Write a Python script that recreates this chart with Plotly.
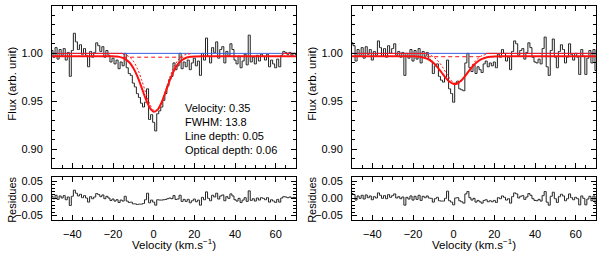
import plotly.graph_objects as go

# ---------------- data ----------------
velocity = list(range(-50, 71))  # bin centres (km/s), 1 km/s bins

flux_left = [1.003, 0.996, 1.006, 0.994, 1.004, 0.998, 1.005, 0.993, 1.001, 0.976,
             1.003, 1.021, 1.012, 1.004, 1.009, 0.999, 1.005, 0.998, 0.986, 1.002,
             0.996, 1.001, 1.011, 1.008, 1.002, 1.007, 0.996, 1.003, 0.998, 0.991,
             0.995, 0.989, 0.993, 0.984, 0.991, 0.987, 1.000, 0.985, 0.979, 0.977,
             0.969, 0.965, 0.958, 0.954, 0.948, 0.944, 0.949, 0.963, 0.931, 0.936,
             0.928, 0.919, 0.937, 0.940, 0.944, 0.951, 0.958, 0.966, 0.973, 0.976,
             0.990, 0.983, 0.987, 1.000, 0.984, 0.991, 0.986, 0.993, 0.983, 0.990,
             0.995, 0.987, 0.992, 0.977, 1.000, 0.993, 1.016, 0.997, 0.990, 1.006,
             1.001, 1.012, 0.995, 1.004, 1.007, 0.990, 1.002, 0.997, 1.010, 1.004,
             0.993, 0.989, 0.997, 0.985, 0.992, 0.999, 0.988, 1.019, 0.991, 0.996,
             0.989, 0.998, 0.992, 0.999, 0.997, 0.993, 0.999, 0.986, 0.993, 0.989,
             0.985, 0.994, 0.986, 0.998, 1.002, 1.001, 0.999, 1.001, 0.998, 1.000,
             0.999]

resid_left = [0.006, -0.001, 0.009, -0.003, 0.007, 0.001, 0.008, -0.004, 0.004, -0.021,
              0.006, 0.024, 0.015, 0.007, 0.012, 0.002, 0.008, 0.001, -0.011, 0.005,
              -0.001, 0.004, 0.014, 0.011, 0.005, 0.010, -0.001, 0.006, 0.001, -0.006,
              -0.002, -0.008, -0.004, -0.012, -0.005, -0.008, 0.006, -0.008, -0.012, -0.011,
              -0.016, -0.016, -0.018, -0.017, -0.017, -0.015, -0.004, 0.015, -0.013, -0.005,
              -0.011, -0.020, -0.004, -0.005, -0.005, -0.004, -0.003, -0.001, 0.001, -0.001,
              0.008, -0.003, -0.002, 0.009, -0.009, -0.003, -0.009, -0.003, -0.013, -0.007,
              -0.002, -0.010, -0.005, -0.020, 0.003, -0.004, 0.019, 0.000, -0.007, 0.009,
              0.004, 0.015, -0.002, 0.007, 0.010, -0.007, 0.005, 0.000, 0.013, 0.007,
              -0.004, -0.008, 0.000, -0.012, -0.005, 0.002, -0.009, 0.022, -0.006, -0.001,
              -0.008, 0.001, -0.005, 0.002, 0.000, -0.004, 0.002, -0.011, -0.004, -0.008,
              -0.012, -0.003, -0.011, 0.001, 0.005, 0.004, 0.002, 0.004, 0.001, 0.003,
              0.002]

flux_right = [1.011, 1.008, 0.992, 1.004, 0.997, 1.006, 0.995, 1.007, 0.999, 1.004,
              0.993, 1.002, 0.998, 1.013, 1.006, 0.997, 1.005, 0.996, 1.008, 1.000,
              1.005, 1.010, 0.998, 1.002, 0.996, 1.001, 0.977, 1.000, 0.995, 1.004,
              0.992, 1.003, 0.994, 1.005, 0.990, 1.002, 0.997, 1.001, 0.994, 0.992,
              0.979, 0.987, 0.989, 0.976, 0.972, 0.970, 0.975, 0.993, 0.963, 0.958,
              0.949, 0.969, 0.971, 0.963, 0.962, 0.961, 0.990, 1.000, 0.985, 0.981,
              0.988, 0.979, 0.986, 0.983, 0.980, 0.989, 0.992, 0.986, 0.990, 0.987,
              0.991, 0.985, 0.999, 0.996, 1.004, 1.000, 0.992, 0.996, 0.983, 1.002,
              1.013, 1.010, 0.998, 1.003, 1.005, 0.994, 1.001, 1.011, 1.006, 0.996,
              0.991, 0.990, 0.994, 0.989, 1.005, 1.017, 0.986, 0.977, 1.003, 1.015,
              0.996, 0.985, 1.002, 1.009, 1.004, 0.990, 0.996, 1.010, 0.999, 0.993,
              1.000, 0.996, 0.978, 1.004, 0.997, 0.978, 0.995, 1.003, 0.990, 1.004,
              0.982]

resid_right = [0.014, 0.011, -0.005, 0.007, 0.000, 0.009, -0.002, 0.010, 0.002, 0.007,
               -0.004, 0.005, 0.001, 0.016, 0.009, 0.000, 0.008, -0.001, 0.011, 0.003,
               0.008, 0.013, 0.001, 0.005, -0.001, 0.004, -0.020, 0.003, -0.002, 0.007,
               -0.005, 0.006, -0.003, 0.009, -0.006, 0.006, 0.002, 0.007, 0.001, 0.000,
               -0.011, -0.001, 0.003, -0.007, -0.008, -0.008, 0.000, 0.021, -0.007, -0.011,
               -0.019, 0.001, 0.002, -0.007, -0.010, -0.014, 0.013, 0.020, 0.002, -0.005,
               0.000, -0.011, -0.006, -0.010, -0.014, -0.006, -0.004, -0.010, -0.007, -0.010,
               -0.006, -0.012, 0.002, -0.001, 0.007, 0.003, -0.005, -0.001, -0.014, 0.005,
               0.016, 0.013, 0.001, 0.006, 0.008, -0.003, 0.004, 0.014, 0.009, -0.001,
               -0.006, -0.007, -0.003, -0.008, 0.008, 0.020, -0.011, -0.020, 0.006, 0.018,
               -0.001, -0.012, 0.005, 0.012, 0.007, -0.007, -0.001, 0.013, 0.002, -0.004,
               0.003, -0.001, -0.019, 0.007, 0.000, -0.019, -0.002, 0.006, -0.007, 0.007,
               -0.015]

# fitted profiles
fit_v = [-50, -24, -20, -18, -16, -14, -12, -10, -8, -6, -4, -2, 0, 2, 4, 6, 8, 10, 12, 14, 16, 18, 20, 24, 70]
fit_left = [0.997, 0.997, 0.9969, 0.9966, 0.9958, 0.9941, 0.9907, 0.9848, 0.9760, 0.9648, 0.9529,
            0.9435, 0.9391, 0.9413, 0.9492, 0.9606, 0.9722, 0.9820, 0.9889, 0.9931, 0.9954,
            0.9964, 0.9968, 0.997, 0.997]
fit_right = [0.997, 0.997, 0.9969, 0.9967, 0.9962, 0.9951, 0.9932, 0.9901, 0.9857, 0.9803, 0.9747,
             0.9703, 0.9681, 0.9688, 0.9723, 0.9774, 0.9831, 0.9880, 0.9918, 0.9943, 0.9957,
             0.9965, 0.9968, 0.997, 0.997]

alt_v_left = [-15, -14, -12, -10, -8, -6, -4, -2, 0, 2, 4, 6, 8, 10, 12, 14, 16, 18]
alt_left = [0.9990, 0.9986, 0.9964, 0.9919, 0.9841, 0.9729, 0.9596, 0.9475, 0.9407, 0.9415,
            0.9497, 0.9622, 0.9753, 0.9860, 0.9930, 0.9970, 0.9989, 0.9996]
alt_v_right = [-13, -12, -10, -8, -6, -4, -2, 0, 2, 4, 6, 8, 10, 12, 14, 16]
alt_right = [0.9990, 0.9984, 0.9964, 0.9928, 0.9874, 0.9806, 0.9739, 0.9692, 0.9681, 0.9711,
             0.9771, 0.9841, 0.9903, 0.9948, 0.9976, 0.9990]

continuum = 1.00
cont_fit_left = 0.996
cont_fit_right = 0.9965

labels_left = ["Velocity: 0.35", "FWHM: 13.8", "Line depth: 0.05", "Optical depth: 0.06"]
labels_y = [0.943, 0.9285, 0.914, 0.8995]

# ---------------- figure ----------------
FONT = "Liberation Sans"
RED = "#ff1010"
BLUE = "#3a5ee0"

fig = go.Figure()

panels = [
    dict(x="x", y="y", xr="x2", yr="y2", flux=flux_left, res=resid_left, fit=fit_left,
         av=alt_v_left, alt=alt_left, cf=cont_fit_left, solid=[(-50, -15), (63, 70)]),
    dict(x="x3", y="y3", xr="x4", yr="y4", flux=flux_right, res=resid_right, fit=fit_right,
         av=alt_v_right, alt=alt_right, cf=cont_fit_right, solid=[(-50, -13), (16, 70)]),
]

for p in panels:
    fig.add_trace(go.Scatter(x=velocity, y=p["flux"], mode="lines", line=dict(color="#222222", width=1, shape="hvh"),
                             xaxis=p["x"], yaxis=p["y"], hoverinfo="skip"))
    fig.add_trace(go.Scatter(x=[-50, 70], y=[continuum, continuum], mode="lines",
                             line=dict(color=BLUE, width=1), xaxis=p["x"], yaxis=p["y"]))
    sx, sy = [], []
    for a, b in p["solid"]:
        sx += [a, b, None]
        sy += [continuum, continuum, None]
    fig.add_trace(go.Scatter(x=sx, y=sy, mode="lines", line=dict(color=RED, width=1),
                             xaxis=p["x"], yaxis=p["y"]))
    fig.add_trace(go.Scatter(x=[p["av"][0], p["av"][-1] - 3], y=[p["cf"], p["cf"]], mode="lines",
                             line=dict(color=RED, width=1, dash="4px,3px"), xaxis=p["x"], yaxis=p["y"]))
    fig.add_trace(go.Scatter(x=p["av"], y=p["alt"], mode="lines",
                             line=dict(color=RED, width=1, dash="2px,2px", shape="spline"),
                             xaxis=p["x"], yaxis=p["y"]))
    fig.add_trace(go.Scatter(x=fit_v, y=p["fit"], mode="lines",
                             line=dict(color=RED, width=2, shape="spline", smoothing=0.6),
                             xaxis=p["x"], yaxis=p["y"]))
    fig.add_trace(go.Scatter(x=velocity, y=p["res"], mode="lines", line=dict(color="#222222", width=1, shape="hvh"),
                             xaxis=p["xr"], yaxis=p["yr"]))

tickfont = dict(family=FONT, size=11, color="black")

def xaxis(domain, anchor, labels):
    return dict(domain=domain, anchor=anchor, range=[-50, 70], showline=True, linecolor="black", linewidth=1,
                mirror="ticks", ticks="inside", ticklen=5, tickcolor="black", tickwidth=1,
                tick0=0, dtick=20, showticklabels=labels, showgrid=False, zeroline=False,
                tickfont=tickfont, ticklabelstandoff=4,
                minor=dict(ticks="inside", ticklen=3, tick0=0, dtick=5, tickcolor="black", showgrid=False))

def yaxis(domain, anchor, rng, dtick, tick0, mdtick):
    return dict(domain=domain, anchor=anchor, range=rng, showline=True, linecolor="black", linewidth=1,
                mirror="ticks", ticks="inside", ticklen=5, tickcolor="black", tickwidth=1,
                tick0=tick0, dtick=dtick, tickformat=".2f", showgrid=False, zeroline=False,
                tickfont=tickfont, ticklabelstandoff=6,
                minor=dict(ticks="inside", ticklen=3, tick0=tick0, dtick=mdtick, tickcolor="black", showgrid=False))

W, H = 600, 254
xl = [52 / W, 296 / W]
xr = [352 / W, 596 / W]
ym = [1 - 169 / H, 1 - 4 / H]
yres = [1 - 221 / H, 1 - 178 / H]

fig.update_layout(
    width=W, height=H, margin=dict(l=0, r=0, t=0, b=0),
    paper_bgcolor="white", plot_bgcolor="white", showlegend=False,
    xaxis=xaxis(xl, "y", False), yaxis=yaxis(ym, "x", [0.88, 1.0495], 0.05, 0.9, 0.01),
    xaxis2=xaxis(xl, "y2", True), yaxis2=yaxis(yres, "x2", [-0.062, 0.062], 0.05, 0, 0.01),
    xaxis3=xaxis(xr, "y3", False), yaxis3=yaxis(ym, "x3", [0.88, 1.0495], 0.05, 0.9, 0.01),
    xaxis4=xaxis(xr, "y4", True), yaxis4=yaxis(yres, "x4", [-0.062, 0.062], 0.05, 0, 0.01),
)

ann = []
for t, yy in zip(labels_left, labels_y):
    ann.append(dict(text=t, x=14.4, y=yy, xref="x", yref="y", xanchor="left", yanchor="middle",
                    showarrow=False, font=dict(family=FONT, size=11, color="black")))
for off in (0, 300):
    ann.append(dict(text="Flux (arb. unit)", x=(12 + off) / W, y=1 - 83 / H, xref="paper", yref="paper",
                    xanchor="center", yanchor="middle",
                    textangle=-90, showarrow=False, font=dict(family=FONT, size=11.5, color="black")))
    ann.append(dict(text="Residues", x=(12 + off) / W, y=1 - 201 / H, xref="paper", yref="paper",
                    xanchor="center", yanchor="middle",
                    textangle=-90, showarrow=False, font=dict(family=FONT, size=11, color="black")))
    ann.append(dict(text="Velocity (km.s<sup>−1</sup>)", x=(174 + off) / W, y=1 - 246 / H, xref="paper",
                    yref="paper", xanchor="center", yanchor="middle",
                    showarrow=False, font=dict(family=FONT, size=11.5, color="black")))
fig.update_layout(annotations=ann)

fig.write_html("out.html", config={"displayModeBar": False},
               post_script="document.body.style.margin='0';document.body.style.padding='0';document.body.style.overflow='hidden';")
